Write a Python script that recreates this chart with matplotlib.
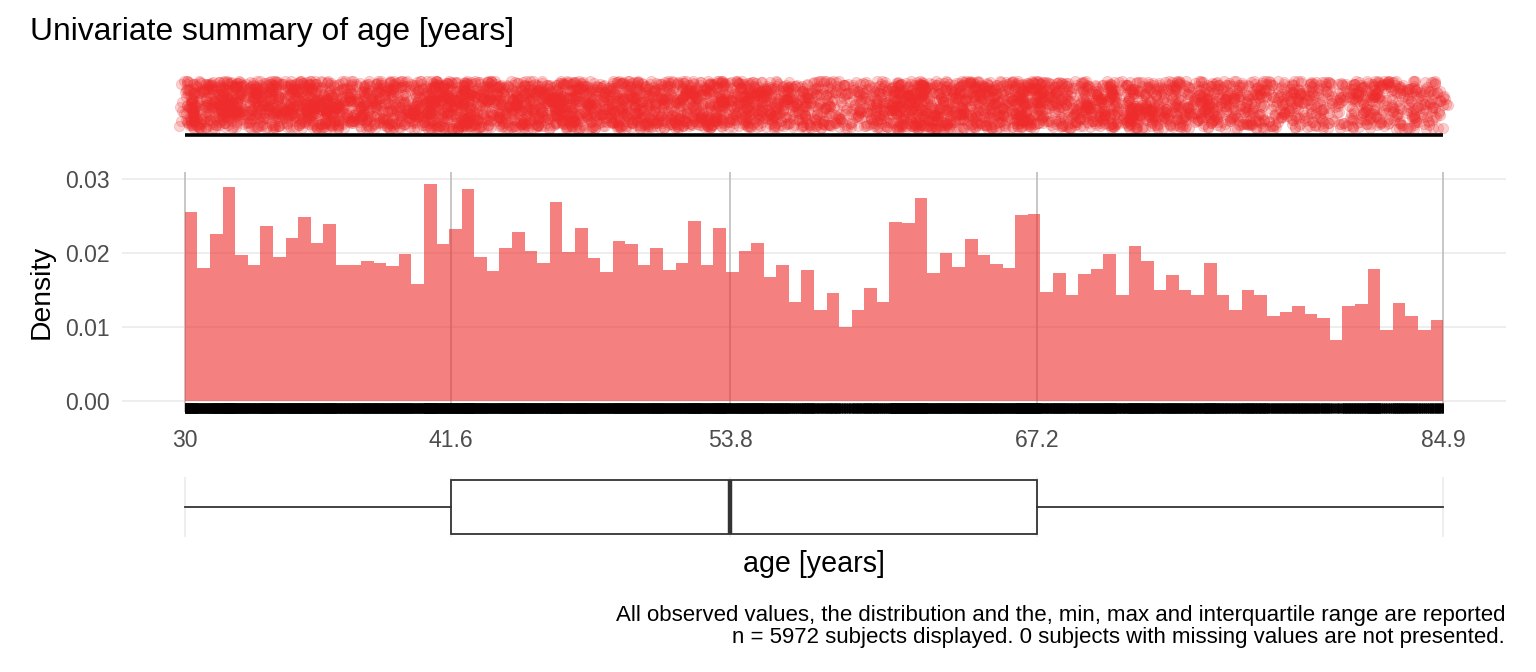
import numpy as np
import matplotlib.pyplot as plt

# histogram: 100 bins between min and max age
age_min = 30.0
age_max = 84.9
q1 = 41.6
median = 53.8
q3 = 67.2
n_subjects = 5972
n_missing = 0

density = [
    0.02557, 0.01802, 0.02261, 0.02894, 0.01978, 0.01843, 0.02369, 0.01951, 0.02207, 0.02490,
    0.02139, 0.02396, 0.01843, 0.01843, 0.01897, 0.01870, 0.01829, 0.01991, 0.01587, 0.02935,
    0.02126, 0.02328, 0.02867, 0.01951, 0.01762, 0.02072, 0.02288, 0.02031, 0.01870, 0.02692,
    0.02018, 0.02342, 0.01937, 0.01748, 0.02166, 0.02126, 0.01843, 0.02072, 0.01775, 0.01870,
    0.02436, 0.01843, 0.02342, 0.01748, 0.02031, 0.02139, 0.01681, 0.01843, 0.01344, 0.01775,
    0.01236, 0.01465, 0.00998, 0.01236, 0.01533, 0.01344, 0.02422, 0.02409, 0.02746, 0.01735,
    0.02004, 0.01816, 0.02193, 0.01978, 0.01856, 0.01802, 0.02517, 0.02530, 0.01479, 0.01735,
    0.01438, 0.01721, 0.01789, 0.01991, 0.01438, 0.02099, 0.01897, 0.01506, 0.01708, 0.01506,
    0.01438, 0.01870, 0.01438, 0.01236, 0.01506, 0.01438, 0.01142, 0.01196, 0.01290, 0.01182,
    0.01128, 0.00831, 0.01290, 0.01317, 0.01789, 0.00953, 0.01330, 0.01155, 0.00966, 0.01101,
]

x_ticks = [30, 41.6, 53.8, 67.2, 84.9]
x_ticklabels = ["30", "41.6", "53.8", "67.2", "84.9"]
y_ticks = [0.00, 0.01, 0.02, 0.03]

title = "Univariate summary of age [years]"
caption1 = "All observed values, the distribution and the, min, max and interquartile range are reported"
caption2 = f"n = {n_subjects} subjects displayed. {n_missing} subjects with missing values are not presented."

RED = "#EE2C2C"
GRID = "#EBEBEB"
DARK = "#333333"
TICK = "#4D4D4D"

plt.rcParams["font.family"] = ["Liberation Sans", "DejaVu Sans"]

W, H = 1536, 672
fig = plt.figure(figsize=(W / 100, H / 100), dpi=100)


def px_axes(left, top, right, bottom):
    return fig.add_axes([left / W, 1 - bottom / H, (right - left) / W, (bottom - top) / H])


span = age_max - age_min
xlim = (age_min - 0.05 * span, age_max + 0.05 * span)
PL, PR = 122, 1506  # panel edges in pixels

density = np.array(density)
nbins = len(density)
bw = span / nbins
edges = age_min + bw * np.arange(nbins + 1)
counts = np.round(density * n_subjects * bw).astype(int)

# expand the bin counts into observations, spread over each bin
obs = []
for i, c in enumerate(counts):
    obs.extend(edges[i] + bw * (np.arange(c) + 0.5) / c)
obs = np.array(obs)

# ---- jittered strip of all observed values (deterministic hash jitter)
ax_s = px_axes(PL, 70, PR, 140)
k = np.arange(len(obs)) + 1.0
hx = np.mod(np.sin(k * 78.233) * 43758.5453, 1.0)
hy = np.mod(np.sin(k * 12.9898) * 43758.5453, 1.0)
ax_s.scatter(obs + (hx - 0.5) * bw, 0.16 + 0.69 * hy, s=55, color=RED, alpha=0.22,
             edgecolors=RED, linewidths=0.6)
ax_s.plot([age_min, age_max], [0.07, 0.07], color="black", lw=2.6, solid_capstyle="butt")
ax_s.set_xlim(xlim)
ax_s.set_ylim(0, 1)
ax_s.axis("off")

# ---- histogram
ax_h = px_axes(PL, 172, PR, 412)
ax_h.set_xlim(xlim)
ax_h.set_ylim(-0.001486, 0.030946)
for y in y_ticks:
    ax_h.axhline(y, color=GRID, lw=1.2, zorder=0)
for x in x_ticks:
    ax_h.axvline(x, color="#BEBEBE", lw=1.2, zorder=1)
ax_h.stairs(density, edges, fill=True, color=RED, alpha=0.6, linewidth=0, zorder=2)
ax_h.vlines(obs, -0.005, 0.036, color="black", lw=0.6,
            transform=ax_h.get_xaxis_transform(), clip_on=False, zorder=3)
ax_h.set_xticks(x_ticks)
ax_h.set_xticklabels(x_ticklabels)
ax_h.set_yticks(y_ticks)
ax_h.set_yticklabels([f"{v:.2f}" for v in y_ticks])
ax_h.tick_params(length=0, labelsize=16.6, labelcolor=TICK)
ax_h.tick_params(axis="x", pad=12)
ax_h.tick_params(axis="y", pad=9)
for sp in ax_h.spines.values():
    sp.set_visible(False)

# ---- boxplot (min, quartiles, max)
ax_b = px_axes(PL, 477, PR, 537)
ax_b.set_xlim(xlim)
ax_b.set_ylim(-0.5, 0.5)
for x in x_ticks:
    ax_b.axvline(x, color=GRID, lw=1.2, zorder=0)
ax_b.bxp([{"whislo": age_min, "q1": q1, "med": median, "q3": q3, "whishi": age_max}],
         positions=[0], widths=0.9, vert=False, showfliers=False, showcaps=False,
         patch_artist=True,
         boxprops=dict(facecolor="white", edgecolor=DARK, linewidth=1.3),
         whiskerprops=dict(color=DARK, linewidth=1.3),
         medianprops=dict(color=DARK, linewidth=3.2, solid_capstyle="butt"))
ax_b.axis("off")

# ---- text
fig.text(30 / W, 1 - 40 / H, title, fontsize=22.9, va="baseline", ha="left")
fig.text(42 / W, 1 - 292 / H, "Density", fontsize=20.3, rotation=90, va="center", ha="center")
fig.text(814 / W, 1 - 564 / H, "age [years]", fontsize=20.6, va="center", ha="center")
fig.text(1505 / W, 1 - 621 / H, caption1, fontsize=16, va="baseline", ha="right")
fig.text(1505 / W, 1 - 643 / H, caption2, fontsize=16, va="baseline", ha="right")

fig.savefig("out.png", dpi=100)
